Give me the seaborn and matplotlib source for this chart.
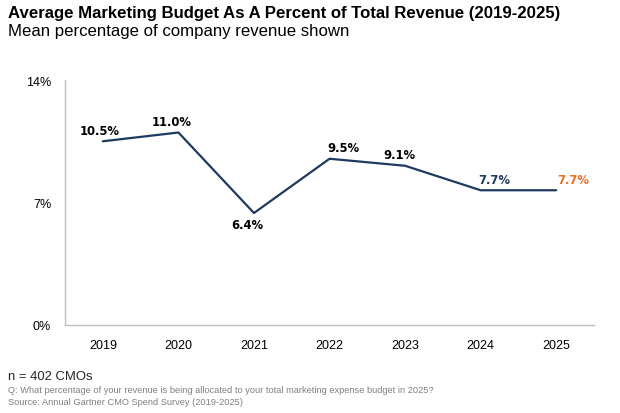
import matplotlib.pyplot as plt
import seaborn as sns
import pandas as pd

# Data
years = ["2019", "2020", "2021", "2022", "2023", "2024", "2025"]
budget_pct = [10.5, 11.0, 6.4, 9.5, 9.1, 7.7, 7.7]
y_ticks = [0, 7, 14]

df = pd.DataFrame({"Year": years, "Budget": budget_pct})

sns.set_style("white")
plt.rcParams["font.family"] = ["Liberation Sans", "DejaVu Sans"]

navy = "#1F3A5F"
orange = "#E8702A"

fig = plt.figure(figsize=(6.2, 4.14), dpi=100)
ax = fig.add_axes([0.105, 0.2126, 0.853, 0.5917])

sns.lineplot(data=df, x="Year", y="Budget", color=navy, linewidth=1.6,
             sort=False, ax=ax)

# point labels: (dx, dy) in points
label_offsets = [(-2, 8), (-5, 8), (-5, -8), (10, 8), (-4, 8), (10, 8), (12, 8)]
label_colors = ["black"] * 5 + [navy, orange]
for i, (yr, v) in enumerate(zip(years, budget_pct)):
    dx, dy = label_offsets[i]
    ax.annotate(f"{v:.1f}%", (i, v), xytext=(dx, dy), textcoords="offset points",
                ha="center", va="center", fontsize=8.4, fontweight="bold",
                color=label_colors[i], family=["DejaVu Sans"])

ax.set_ylim(0, 14)
ax.set_xlim(-0.5, len(years) - 0.5)
ax.set_yticks(y_ticks)
ax.set_yticklabels([f"{t}%" for t in y_ticks])
ax.set_xlabel("")
ax.set_ylabel("")
ax.tick_params(axis="both", length=0, labelsize=9, colors="black")
ax.tick_params(axis="x", pad=10)
ax.tick_params(axis="y", pad=10)
for side in ["top", "right"]:
    ax.spines[side].set_visible(False)
for side in ["left", "bottom"]:
    ax.spines[side].set_color("#BFBFBF")
    ax.spines[side].set_linewidth(1.0)

# Titles and notes
fig.text(0.013, 0.967, "Average Marketing Budget As A Percent of Total Revenue (2019-2025)",
         fontsize=12.1, fontweight="bold", color="black", va="center")
fig.text(0.013, 0.924, "Mean percentage of company revenue shown", fontsize=12.1,
         color="black", va="center")
fig.text(0.013, 0.089, "n = 402 CMOs", fontsize=9.4, va="center")
fig.text(0.013, 0.056, "Q: What percentage of your revenue is being allocated to your total marketing expense budget in 2025?",
         fontsize=6.7, color="#808080", va="center")
fig.text(0.013, 0.027, "Source: Annual Gartner CMO Spend Survey (2019-2025)",
         fontsize=6.7, color="#808080", va="center")

fig.savefig("out.png", dpi=100)
